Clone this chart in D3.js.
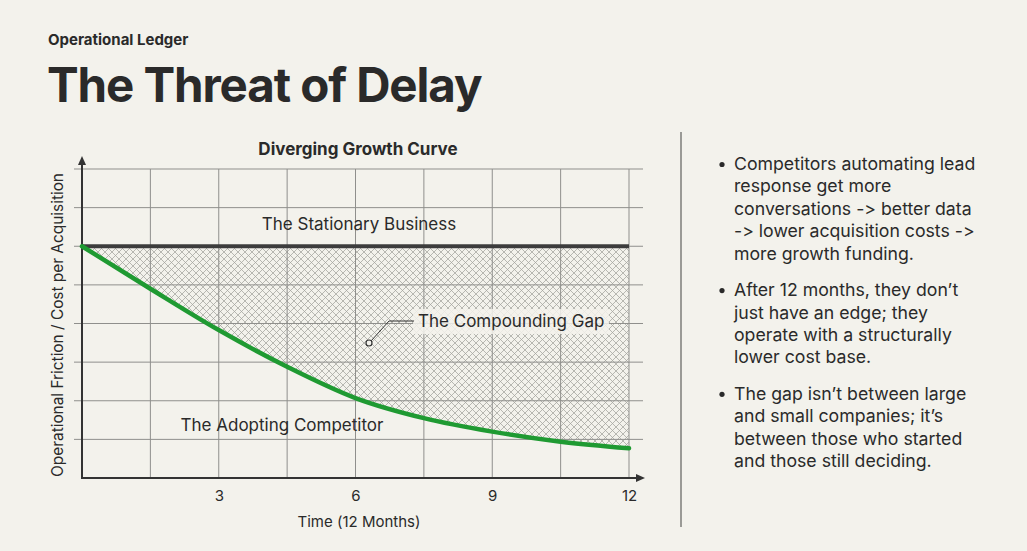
<!DOCTYPE html>
<html>
<head>
<meta charset="utf-8">
<script src="https://cdn.jsdelivr.net/npm/d3@7"></script>
<style>
  html, body { margin: 0; padding: 0; background: #f3f2ec; }
  svg { display: block; font-family: Inter, "Noto Sans", sans-serif;
        font-feature-settings: "calt" 0, "liga" 0; font-variant-ligatures: none; }
</style>
</head>
<body>
<div id="chart-area"></div>
<script>
// Chart values.
var months = [0, 1.5, 3, 4.5, 6, 7.5, 9, 10.5, 12];
var adoptingCost = [6, 4.9, 3.83, 2.88, 2.07, 1.55, 1.2, 0.94, 0.77];
var stationaryCost = [6, 6, 6, 6, 6, 6, 6, 6, 6];
var xTickLabels = [3, 6, 9, 12];
var gridMonths = [1.5, 3, 4.5, 6, 7.5, 9, 10.5, 12];
var gridLevels = [1, 2, 3, 4, 5, 6, 7, 8];

var bullets = [
    ["Competitors automating lead", "response get more", "conversations -> better data",
     "-> lower acquisition costs ->", "more growth funding."],
    ["After 12 months, they don\u2019t", "just have an edge; they",
     "operate with a structurally", "lower cost base."],
    ["The gap isn\u2019t between large", "and small companies; it\u2019s",
     "between those who started", "and those still deciding."]
];

var W = 1027, H = 551;
var ink = "#2a2a2a";

var svg = d3.select("#chart-area")
    .append("svg")
    .attr("width", W)
    .attr("height", H);

svg.append("rect").attr("width", W).attr("height", H).attr("fill", "#f3f2ec");

// Header
svg.append("text")
    .attr("x", 48).attr("y", 45)
    .attr("font-size", 15).attr("font-weight", 700)
    .attr("fill", ink)
    .text("Operational Ledger");

svg.append("text")
    .attr("x", 47).attr("y", 102)
    .attr("font-size", 47.5).attr("font-weight", 700)
    .attr("letter-spacing", -1.1)
    .attr("fill", ink)
    .text("The Threat of Delay");

// Scales
var x = d3.scaleLinear().domain([0, 12]).range([82, 629]);
var y = d3.scaleLinear().domain([0, 8]).range([478, 169]);

// Hatch pattern for the gap
var defs = svg.append("defs");
var pat = defs.append("pattern")
    .attr("id", "hatch")
    .attr("patternUnits", "userSpaceOnUse")
    .attr("width", 7).attr("height", 7);
pat.append("path")
    .attr("d", "M0,0 L7,7 M7,0 L0,7 M-1,6 L1,8 M6,-1 L8,1 M-1,1 L1,-1 M6,8 L8,6")
    .attr("stroke", "#a3a39e")
    .attr("stroke-width", 0.75)
    .attr("fill", "none");

// Chart title
svg.append("text")
    .attr("x", 358).attr("y", 155)
    .attr("text-anchor", "middle")
    .attr("font-size", 17).attr("font-weight", 700)
    .attr("fill", ink)
    .text("Diverging Growth Curve");

// Gap area
var rows = months.map(function(m, i) {
    return {m: m, top: stationaryCost[i], bottom: adoptingCost[i]};
});

var area = d3.area()
    .x(function(d) { return x(d.m); })
    .y0(function(d) { return y(d.bottom); })
    .y1(function(d) { return y(d.top); })
    .curve(d3.curveMonotoneX);

svg.append("path")
    .datum(rows)
    .attr("d", area)
    .attr("fill", "url(#hatch)");

// Grid
svg.append("g").selectAll("line")
    .data(gridMonths).enter().append("line")
    .attr("x1", function(d) { return x(d); })
    .attr("x2", function(d) { return x(d); })
    .attr("y1", y(8)).attr("y2", y(0))
    .attr("stroke", "#8f8f8c").attr("stroke-width", 1);

svg.append("g").selectAll("line")
    .data(gridLevels).enter().append("line")
    .attr("x1", x(0) - 8).attr("x2", x(12) + 14)
    .attr("y1", function(d) { return y(d); })
    .attr("y2", function(d) { return y(d); })
    .attr("stroke", "#8f8f8c").attr("stroke-width", 1);

// Axes with arrowheads
svg.append("line")
    .attr("x1", x(0)).attr("x2", x(0))
    .attr("y1", y(0)).attr("y2", 162)
    .attr("stroke", "#333").attr("stroke-width", 2);
svg.append("path")
    .attr("d", "M" + x(0) + ",156 l-4,9 l8,0 z")
    .attr("fill", "#333");

svg.append("line")
    .attr("x1", x(0) - 1).attr("x2", 639)
    .attr("y1", y(0)).attr("y2", y(0))
    .attr("stroke", "#333").attr("stroke-width", 2);
svg.append("path")
    .attr("d", "M645," + y(0) + " l-9,-4 l0,8 z")
    .attr("fill", "#333");

// Tick labels
var xAxis = d3.axisBottom(x)
    .tickValues(xTickLabels)
    .tickSize(0)
    .tickPadding(12);
var gx = svg.append("g")
    .attr("transform", "translate(0," + y(0) + ")")
    .call(xAxis);
gx.select(".domain").remove();
gx.selectAll("text")
    .attr("font-size", 15)
    .attr("font-family", "Inter, sans-serif")
    .attr("fill", ink);

// Axis titles
svg.append("text")
    .attr("x", 359).attr("y", 527)
    .attr("text-anchor", "middle")
    .attr("font-size", 15)
    .attr("fill", ink)
    .text("Time (12 Months)");

svg.append("text")
    .attr("transform", "translate(63,325) rotate(-90)")
    .attr("text-anchor", "middle")
    .attr("font-size", 15.4)
    .attr("fill", ink)
    .text("Operational Friction / Cost per Acquisition");

// Lines
var line = d3.line()
    .x(function(d) { return x(d.m); })
    .y(function(d) { return y(d.v); })
    .curve(d3.curveMonotoneX);

svg.append("path")
    .datum(months.map(function(m, i) { return {m: m, v: stationaryCost[i]}; }))
    .attr("d", line)
    .attr("fill", "none")
    .attr("stroke", "#3c3c3c")
    .attr("stroke-width", 4);

svg.append("path")
    .datum(months.map(function(m, i) { return {m: m, v: adoptingCost[i]}; }))
    .attr("d", line)
    .attr("fill", "none")
    .attr("stroke", "#1f9a32")
    .attr("stroke-width", 4.5)
    .attr("stroke-linecap", "round");

// Series labels
svg.append("text")
    .attr("x", 359).attr("y", 230)
    .attr("text-anchor", "middle")
    .attr("font-size", 17)
    .attr("fill", ink)
    .text("The Stationary Business");

svg.append("text")
    .attr("x", 282).attr("y", 431)
    .attr("text-anchor", "middle")
    .attr("font-size", 17)
    .attr("fill", ink)
    .text("The Adopting Competitor");

// Gap annotation
svg.append("rect")
    .attr("x", 413).attr("y", 309)
    .attr("width", 196).attr("height", 25)
    .attr("fill", "#f3f2ec").attr("opacity", 0.85);
svg.append("path")
    .attr("d", "M371,341 L389,321 L414,321")
    .attr("fill", "none")
    .attr("stroke", "#333").attr("stroke-width", 1);
svg.append("circle")
    .attr("cx", 369).attr("cy", 343).attr("r", 3)
    .attr("fill", "#f3f2ec")
    .attr("stroke", "#333").attr("stroke-width", 1.2);
svg.append("text")
    .attr("x", 418).attr("y", 327)
    .attr("font-size", 17)
    .attr("fill", ink)
    .text("The Compounding Gap");

// Divider
svg.append("line")
    .attr("x1", 681).attr("x2", 681)
    .attr("y1", 132).attr("y2", 527)
    .attr("stroke", "#7d7d7a").attr("stroke-width", 1.5);

// Bullet list
var lineGap = 22.4, paraGap = 36.5;
var startY = 170;
bullets.forEach(function(lines, i) {
    svg.append("circle")
        .attr("cx", 722).attr("cy", startY - 5.5).attr("r", 2.6)
        .attr("fill", ink);
    var t = svg.append("text")
        .attr("font-size", 17.7)
        .attr("fill", ink);
    lines.forEach(function(s, j) {
        t.append("tspan")
            .attr("x", 734)
            .attr("y", startY + j * lineGap)
            .text(s);
    });
    startY += (lines.length - 1) * lineGap + paraGap;
});
</script>
</body>
</html>
